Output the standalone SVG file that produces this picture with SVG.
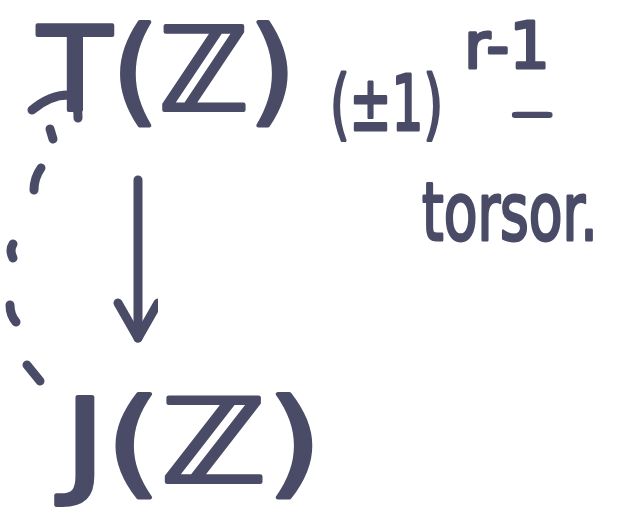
<svg xmlns="http://www.w3.org/2000/svg" width="621" height="518" viewBox="0 0 621 518">
<defs>
<style>
.ink{fill:#4a4b67;stroke:#4a4b67;stroke-linejoin:round;font-family:"DejaVu Sans","Liberation Sans",sans-serif;}
.stroke{fill:none;stroke:#4a4b67;stroke-linecap:round;stroke-linejoin:round;}
</style>
<marker id="vhead" markerUnits="userSpaceOnUse" markerWidth="50" markerHeight="50" refX="40" refY="20" orient="auto" viewBox="0 0 50 50">
<path d="M5,0 L40,20 L5,40" fill="none" stroke="#4a4b67" stroke-width="9" stroke-linecap="round" stroke-linejoin="round"/>
</marker>
</defs>
<rect width="621" height="518" fill="#ffffff"/>
<g id="node-TZ">
<text class="ink" x="38" y="110" font-size="115" stroke-width="4" textLength="258" lengthAdjust="spacingAndGlyphs">T(ℤ)</text>
</g>
<g id="label-torsor">
<text class="ink" transform="matrix(0.66,0,0,1,330,130)" x="0" y="0" font-size="76" stroke-width="3">(±1)</text>
<text class="ink" x="464" y="68" font-size="64" stroke-width="3">r-1</text>
<text class="ink" transform="matrix(2.4,0,0,1,513,124)" x="0" y="0" font-size="32" stroke-width="4">–</text>
<text class="ink" transform="matrix(0.69,0,0,1,422,240)" x="0" y="0" font-size="80" stroke-width="3">torsor.</text>
</g>
<g id="node-JZ">
<text class="ink" x="64" y="482" font-size="116" stroke-width="4" textLength="258" lengthAdjust="spacingAndGlyphs">J(ℤ)</text>
</g>
<g id="connectors">
<path class="stroke" stroke-width="9" d="M138,180 L138,338" marker-end="url(#vhead)"/>
<g class="stroke" stroke-width="9">
<path d="M32,110 Q50,95 68,95 Q78,98 78,118"/>
<path d="M50,129 L53,139"/>
<path d="M41,168 Q34,178 34,190"/>
<path d="M13,244 Q9,250 13,258"/>
<path d="M10,305 Q10,315 16,322"/>
<path d="M27,365 L40,381"/>
</g>
</g>
</svg>
